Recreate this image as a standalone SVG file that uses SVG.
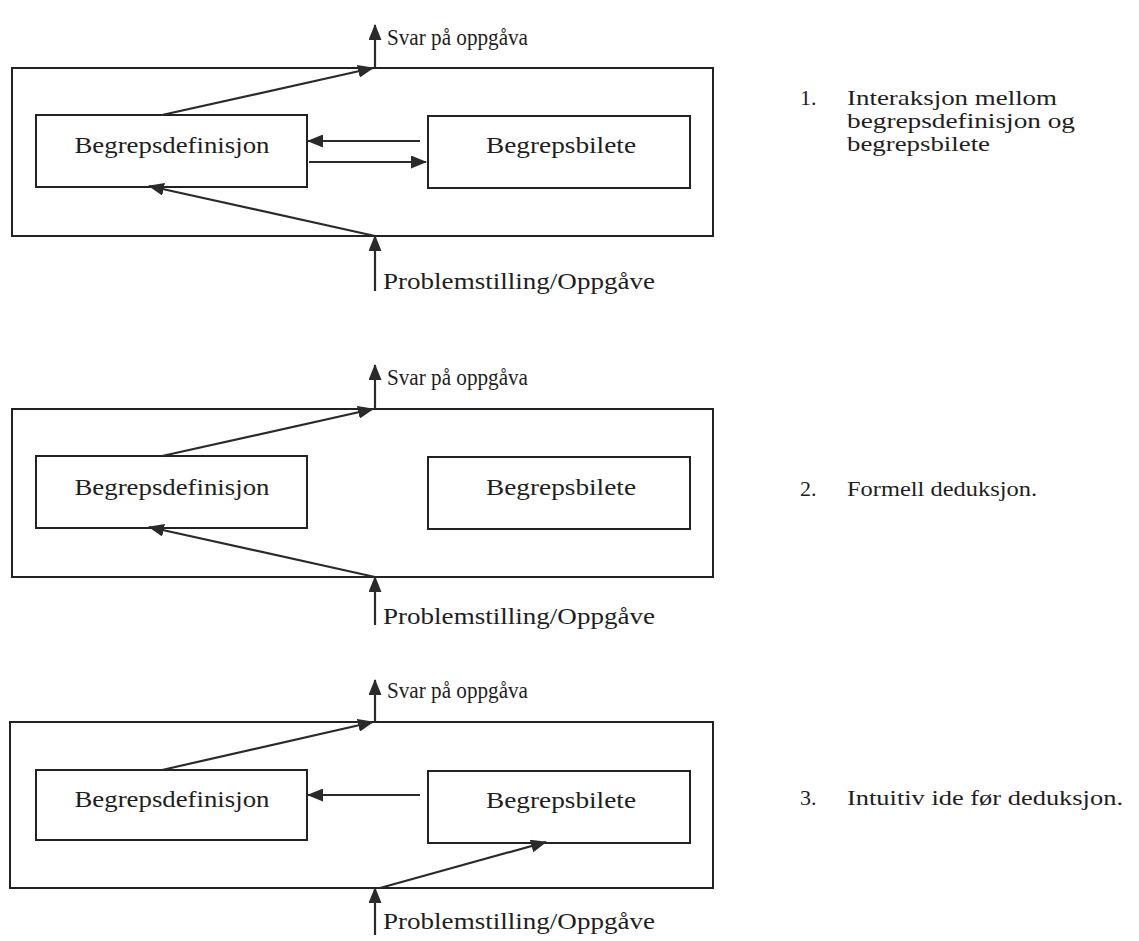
<svg xmlns="http://www.w3.org/2000/svg" width="1139" height="941" viewBox="0 0 1139 941">
<style>
.box{fill:none;stroke:#222;stroke-width:2}
.ln{fill:none;stroke:#2a2a2a;stroke-width:2.2;marker-end:url(#ah)}
.t{font-family:"Liberation Serif","Times New Roman",serif;font-size:24px;fill:#1e1e1e}
.l{font-family:"Liberation Serif","Times New Roman",serif;font-size:23px;fill:#1e1e1e}
.r{font-family:"Liberation Serif","Times New Roman",serif;font-size:22px;fill:#1e1e1e}
</style>
<defs>
<marker id="ah" markerUnits="userSpaceOnUse" markerWidth="16" markerHeight="13" refX="15" refY="6.5" orient="auto">
<path d="M0,0 L16,6.5 L0,13 z" fill="#2a2a2a"/>
</marker>
</defs>
<rect width="1139" height="941" fill="#fff"/>

<!-- Diagram 1 -->
<g id="frame1"><rect class="box" x="12" y="68" width="701" height="168"/></g>
<g id="def1"><rect class="box" x="36" y="115" width="271" height="72"/><text class="t" x="172" y="153" text-anchor="middle" textLength="195" lengthAdjust="spacingAndGlyphs">Begrepsdefinisjon</text></g>
<g id="bil1"><rect class="box" x="428" y="116" width="262" height="72"/><text class="t" x="561" y="153" text-anchor="middle" textLength="150" lengthAdjust="spacingAndGlyphs">Begrepsbilete</text></g>
<g id="svar1"><text class="l" x="387" y="45" textLength="141" lengthAdjust="spacingAndGlyphs">Svar på oppgåva</text></g>
<g id="prob1"><text class="l" x="383" y="289" textLength="272" lengthAdjust="spacingAndGlyphs">Problemstilling/Oppgåve</text></g>
<g id="desc1"><text class="r" x="800" y="105">1.</text><text class="r" x="847" y="105" textLength="210" lengthAdjust="spacingAndGlyphs">Interaksjon mellom</text><text class="r" x="847" y="128" textLength="228" lengthAdjust="spacingAndGlyphs">begrepsdefinisjon og</text><text class="r" x="847" y="151" textLength="143" lengthAdjust="spacingAndGlyphs">begrepsbilete</text></g>

<!-- Diagram 2 -->
<g id="frame2"><rect class="box" x="12" y="409" width="701" height="168"/></g>
<g id="def2"><rect class="box" x="36" y="456" width="271" height="72"/><text class="t" x="172" y="495" text-anchor="middle" textLength="195" lengthAdjust="spacingAndGlyphs">Begrepsdefinisjon</text></g>
<g id="bil2"><rect class="box" x="428" y="457" width="262" height="72"/><text class="t" x="561" y="495" text-anchor="middle" textLength="150" lengthAdjust="spacingAndGlyphs">Begrepsbilete</text></g>
<g id="svar2"><text class="l" x="387" y="385" textLength="141" lengthAdjust="spacingAndGlyphs">Svar på oppgåva</text></g>
<g id="prob2"><text class="l" x="383" y="624" textLength="272" lengthAdjust="spacingAndGlyphs">Problemstilling/Oppgåve</text></g>
<g id="desc2"><text class="r" x="800" y="496">2.</text><text class="r" x="847" y="496" textLength="190" lengthAdjust="spacingAndGlyphs">Formell deduksjon.</text></g>

<!-- Diagram 3 -->
<g id="frame3"><rect class="box" x="10" y="722" width="703" height="166"/></g>
<g id="def3"><rect class="box" x="36" y="770" width="271" height="70"/><text class="t" x="172" y="807" text-anchor="middle" textLength="195" lengthAdjust="spacingAndGlyphs">Begrepsdefinisjon</text></g>
<g id="bil3"><rect class="box" x="428" y="771" width="262" height="72"/><text class="t" x="561" y="808" text-anchor="middle" textLength="150" lengthAdjust="spacingAndGlyphs">Begrepsbilete</text></g>
<g id="svar3"><text class="l" x="387" y="698" textLength="141" lengthAdjust="spacingAndGlyphs">Svar på oppgåva</text></g>
<g id="prob3"><text class="l" x="383" y="929" textLength="272" lengthAdjust="spacingAndGlyphs">Problemstilling/Oppgåve</text></g>
<g id="desc3"><text class="r" x="800" y="805">3.</text><text class="r" x="847" y="805" textLength="276" lengthAdjust="spacingAndGlyphs">Intuitiv ide før deduksjon.</text></g>

<g id="connectors">
<!-- 1 -->
<line class="ln" x1="162" y1="115" x2="373" y2="68"/>
<line class="ln" x1="375" y1="68" x2="375" y2="25"/>
<line class="ln" x1="420" y1="141" x2="308" y2="141"/>
<line class="ln" x1="309" y1="162" x2="426" y2="162"/>
<line class="ln" x1="375" y1="236" x2="149" y2="186"/>
<line class="ln" x1="375" y1="291" x2="375" y2="236"/>
<!-- 2 -->
<line class="ln" x1="162" y1="456" x2="373" y2="409"/>
<line class="ln" x1="375" y1="409" x2="375" y2="365"/>
<line class="ln" x1="375" y1="577" x2="149" y2="527"/>
<line class="ln" x1="375" y1="625" x2="375" y2="577"/>
<!-- 3 -->
<line class="ln" x1="162" y1="770" x2="373" y2="722"/>
<line class="ln" x1="375" y1="722" x2="375" y2="680"/>
<line class="ln" x1="420" y1="795" x2="308" y2="795"/>
<line class="ln" x1="380" y1="888" x2="546" y2="842"/>
<line class="ln" x1="375" y1="935" x2="375" y2="888"/>
</g>
</svg>
